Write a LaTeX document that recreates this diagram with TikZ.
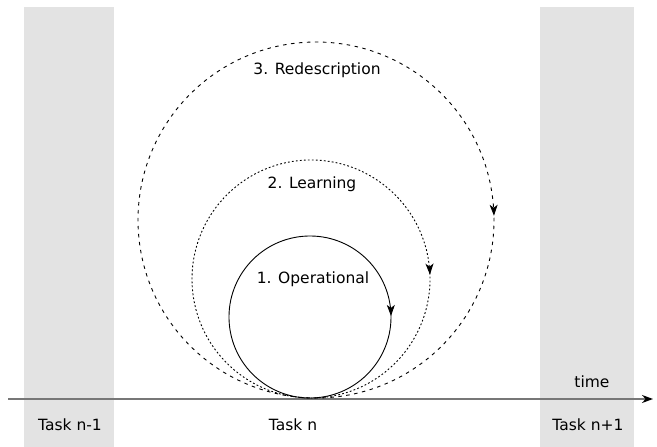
\documentclass[tikz,border=0pt]{standalone}
\usepackage{fontspec}
\setmainfont{DejaVu Sans}
\usetikzlibrary{arrows.meta,decorations.markings}
\definecolor{bandgray}{HTML}{E3E3E3}
\definecolor{axisgray}{HTML}{777777}
\tikzset{
  band/.style={fill=bandgray,draw=none},
  lbl/.style={font=\fontsize{15.5}{18}\selectfont,inner sep=0pt,anchor=center},
  loopa/.style={line width=0.9pt,black},
  loopb/.style={line width=0.9pt,black,dash pattern=on 1.8pt off 2.2pt},
  loopc/.style={line width=0.9pt,black,dash pattern=on 3.5pt off 4.5pt},
  tipmark/.style={postaction={decorate},decoration={markings,mark=at position 6pt with {\arrow{Stealth[length=11pt,width=8pt,inset=3pt]}}}},
  axis/.style={line width=1.8pt,axisgray,-{Stealth[length=11pt,width=8pt,black]}}
}
\begin{document}
\begin{tikzpicture}[x=1pt,y=-1pt]
\useasboundingbox (0,0) rectangle (657,447);
\fill[white] (0,0) rectangle (657,447);
\path[band] (24,7) rectangle (114,447);
\path[band] (540,7) rectangle (634,447);
% axis
\coordinate (axstart) at (8,399);
\coordinate (axend) at (653,399);
\draw[axis] (axstart) -- (axend);
% loops
\coordinate (c1) at (310,317);
\coordinate (c2) at (311,279);
\coordinate (c3) at (316,220);
\draw[loopa,tipmark] (c1) ++(-5:81) arc[start angle=-5,end angle=355,radius=81];
\draw[loopb,tipmark] (c2) ++(-5:119) arc[start angle=-5,end angle=355,radius=119];
\draw[loopc,tipmark] (c3) ++(-3.3:178) arc[start angle=-3.3,end angle=356.7,radius=178];
% labels
\node[lbl] (l1) at (313,279) {1. Operational};
\node[lbl] (l2) at (312,184) {2. Learning};
\node[lbl] (l3) at (317,70) {3. Redescription};
\node[lbl] (time) at (592,382) {time};
\node[lbl] (t0) at (70,425) {Task n-1};
\node[lbl] (t1) at (293,425) {Task n};
\node[lbl] (t2) at (588,425) {Task n+1};
\end{tikzpicture}
\end{document}
